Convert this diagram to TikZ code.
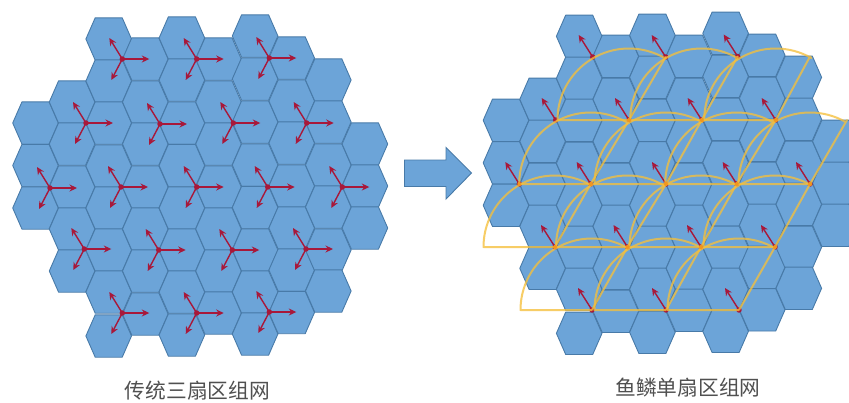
\documentclass[tikz,border=0pt]{standalone}
\usepackage{fontspec}
\newfontfamily\cjk{Noto Sans CJK SC}
\usetikzlibrary{arrows.meta}
\definecolor{hexfill}{RGB}{108,164,216}
\definecolor{hexedge}{RGB}{72,122,168}
\definecolor{radio}{RGB}{168,24,58}
\definecolor{fan}{RGB}{245,192,60}
\definecolor{hot}{RGB}{240,150,30}
\definecolor{label}{RGB}{80,80,80}
\tikzset{
  hexcell/.style={draw=hexedge,fill=hexfill,line width=0.9pt,line join=round},
  beam/.style={draw=radio,line width=1.4pt,-{Stealth[length=7.5pt,width=7pt]}},
  site/.style={circle,fill=radio,inner sep=0pt,minimum size=5.5pt},
  fansector/.style={draw=fan,line width=2pt,opacity=0.78,line join=round},
  hotspot/.style={circle,fill=hot,inner sep=0pt,minimum size=4pt},
  caption/.style={text=label,font=\cjk\fontsize{20.8}{24}\selectfont,inner sep=0pt}
}
\newcommand{\hexgrid}{%
  \foreach \k/\ys in {%
    0/{123,165.5,208},
    1/{102,144,187,229,271},
    2/{39,81,123,166,208,250,292,336},
    3/{59,102,144,187,229,271,314},
    4/{38,80,123,165.5,208,250,292,335},
    5/{59,102,144,187,229,271,313},
    6/{36,79,122,165,207.5,250,292,334},
    7/{58,101,143,186,228,270,312.5},
    8/{80,122,165,207,250,291},
    9/{144,186,228}}{%
    \foreach \yy in \ys {%
      \pgfmathsetmacro{\xx}{35.5+36.6*\k}
      \draw[hexcell,shift={(\xx,\yy)}] (-22.8,0) -- (-13.5,-21.2) -- (13.5,-21.2) -- (22.8,0) -- (13.5,21.2) -- (-13.5,21.2) -- cycle;
    }
  }%
}
\begin{document}
\begin{tikzpicture}[x=1bp,y=-1bp]
\clip (0,0) rectangle (849,402);
\fill[white] (0,0) rectangle (849,402);

% left panel
\hexgrid
\foreach \n/\sx/\sy in {
  a/122.3/59, b/196.7/59, c/269.3/58,
  d/86/123, e/160/124, f/233.3/123, g/306.7/123,
  h/50/188, i/121/187, j/196.7/187, k/267.7/187, l/342.3/187,
  m/84.3/249, n/158.7/250, o/232.3/250, p/306/249,
  q/122.3/313, r/196.7/313, s/269.3/312}{
  \node[site] (L\n) at (\sx,\sy) {};
  \coordinate (L\n e) at (\sx+27,\sy);
  \coordinate (L\n u) at (\sx-13,\sy-21);
  \coordinate (L\n d) at (\sx-11,\sy+21);
  \draw[beam] (L\n.center) -- (L\n e);
  \draw[beam] (L\n.center) -- (L\n u);
  \draw[beam] (L\n.center) -- (L\n d);
}

% block arrow
\draw[draw=hexedge,fill=hexfill,line width=0.9pt,line join=miter]
  (404.5,160) -- (446,160) -- (446,147.5) -- (471.5,173) -- (446,199) -- (446,186.5) -- (404.5,186.5) -- cycle;

% right panel
\begin{scope}[shift={(470.5,-2.7)}]
\hexgrid
\end{scope}
\foreach \n/\sx/\sy in {
  a/592.7/57, b/665.7/57, c/737.7/56.5,
  d/555.7/120, e/629/120, f/701.7/120, g/775.7/120,
  h/519.3/184, i/590.7/184, j/666/184, k/736.7/184, l/810/184,
  m/555/247, n/627.5/247, o/701/247, p/775/247,
  q/592/310, r/666/310, s/739/310}{
  \node[site] (R\n) at (\sx,\sy) {};
  \coordinate (R\n u) at (\sx-14,\sy-22);
  \draw[beam] (R\n.center) -- (R\n u);
}
\foreach \c/\e in {e/b,f/c,i/e,j/f,k/g,m/i,n/j,o/k,p/l,q/n,r/o,s/p}{
  \draw[fansector] (R\c.center) -- ++(-71.5,0) arc[start angle=180,end angle=300,radius=71.5] -- (R\e.center) -- (R\c.center);
}
\coordinate (Rtip1) at (810,56.5);
\coordinate (Rtip2) at (847,120);
\draw[fansector] (Rg.center) -- ++(-71.5,0) arc[start angle=180,end angle=300,radius=71.5] -- (Rtip1) -- (Rg.center);
\draw[fansector] (Rl.center) -- ++(-71.5,0) arc[start angle=180,end angle=300,radius=71.5] -- (Rtip2) -- (Rl.center);
\foreach \c in {e,f,g,h,i,j,k,l,m,n,o,p}{
  \node[hotspot] (H\c) at (R\c.center) {};
}

% captions
\node[caption] (capL) at (197.5,391) {传统三扇区组网};
\node[caption] (capR) at (688,388) {鱼鳞单扇区组网};
\end{tikzpicture}
\end{document}
